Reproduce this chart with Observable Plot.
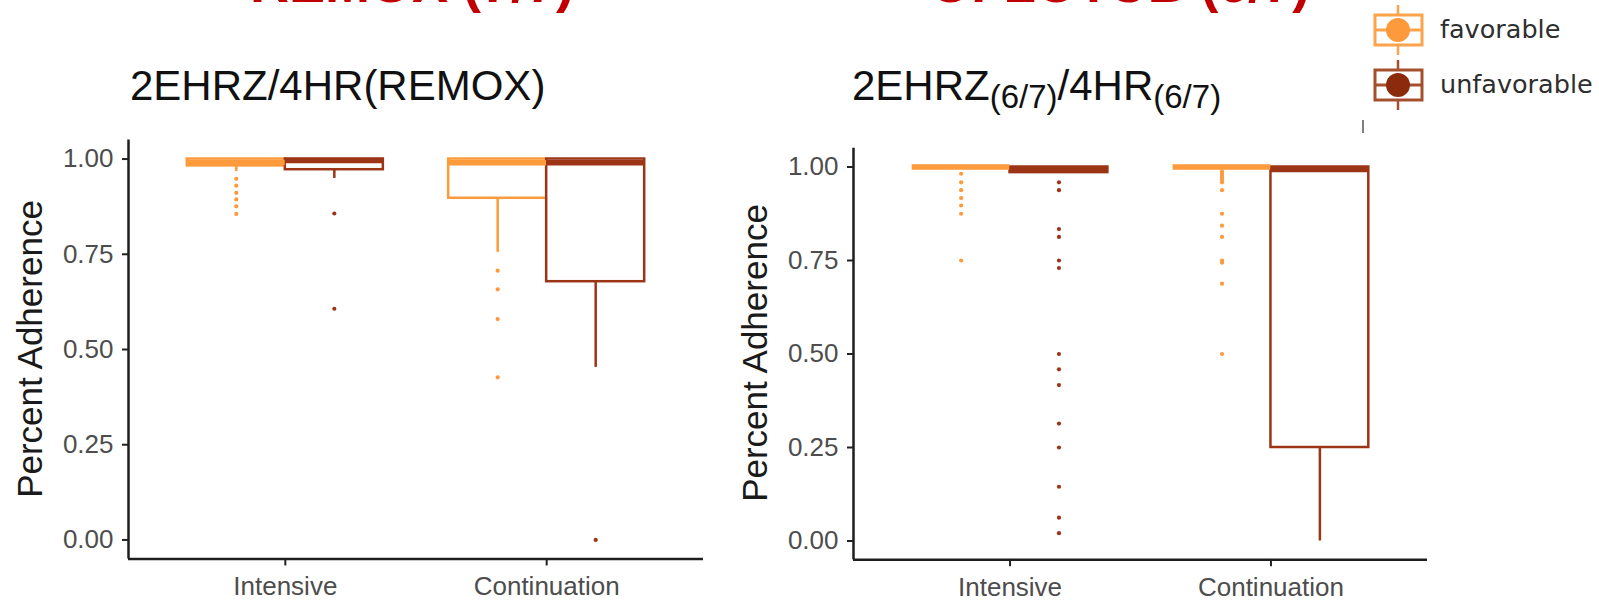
<!DOCTYPE html>
<html>
<head>
<meta charset="utf-8">
<script src="https://cdn.jsdelivr.net/npm/d3@7"></script>
<script src="https://cdn.jsdelivr.net/npm/@observablehq/plot@0.6"></script>
<style>
  body { margin: 0; background: #fff; }
  #page { position: relative; width: 1599px; height: 601px; overflow: hidden; background: #fff; }
  #page > .panel { position: absolute; top: 0; }
  #overlay { position: absolute; left: 0; top: 0; pointer-events: none; }
</style>
</head>
<body>
<div id="page"></div>
<script>
// Treatment phases on the x axis and outcome groups (dodged boxes)
const phases = ["Intensive", "Continuation"];
const outcomes = ["favorable", "unfavorable"];
const outcomeColors = ["#fd9a3b", "#9c3416"];
const yTicks = [0, 0.25, 0.5, 0.75, 1];

// Box order in every array: Intensive-favorable, Intensive-unfavorable,
// Continuation-favorable, Continuation-unfavorable

// REMOX: 2EHRZ/4HR
const remoxQ1 = [0.982, 0.972, 0.897, 0.678];
const remoxMedian = [0.991, 0.996, 0.99, 0.99];
const remoxQ3 = [1, 1, 1, 1];
const remoxWhiskerLow = [0.967, 0.949, 0.755, 0.453];
const remoxOutliers = [
  [0.948, 0.930, 0.911, 0.894, 0.876, 0.856],
  [0.857, 0.607],
  [0.707, 0.658, 0.580, 0.427],
  [0.0]
];

// OFLOTUB: 2EHRZ(6/7)/4HR(6/7)
const oflotubQ1 = [1, 0.985, 1, 0.25];
const oflotubMedian = [1, 0.995, 1, 0.993];
const oflotubQ3 = [1, 1, 1, 1];
const oflotubWhiskerLow = [1, 0.985, 1, 0.0];
const oflotubOutliers = [
  [0.982, 0.959, 0.938, 0.917, 0.897, 0.875, 0.75],
  [0.959, 0.938, 0.834, 0.813, 0.75, 0.73, 0.5, 0.459, 0.417, 0.314, 0.25, 0.145, 0.0625, 0.021],
  [0.988, 0.982, 0.976, 0.971, 0.965, 0.959, 0.938, 0.875, 0.843, 0.813, 0.75, 0.744, 0.688, 0.5],
  []
];

const font = "'Liberation Sans', Arial, Helvetica, sans-serif";
const dodge = 0.375; // half of the 0.75 group width

function boxplotPanel({q1, median, q3, low, outliers, width, marginLeft, marginRight, marginTop, marginBottom}) {
  const boxes = q1.map((_, i) => {
    const p = Math.floor(i / 2), o = i % 2;
    const x1 = p + 1 - dodge + o * dodge;
    return {
      phase: phases[p], outcome: outcomes[o],
      x1, x2: x1 + dodge, xc: x1 + dodge / 2,
      q1: q1[i], median: median[i], q3: q3[i], low: low[i]
    };
  });
  const points = boxes.flatMap((b, i) => outliers[i].map(v => ({...b, value: v})));
  return Plot.plot({
    width, height: 601,
    marginLeft, marginRight, marginTop, marginBottom,
    x: {domain: [0.4, 2.6], axis: null},
    y: {domain: [-0.05, 1.05], axis: null},
    color: {domain: outcomes, range: outcomeColors},
    style: {fontFamily: font, fontSize: "26px", color: "#4d4d4d", background: "transparent", overflow: "visible"},
    marks: [
      Plot.ruleX(boxes.filter(d => d.low < d.q1), {x: "xc", y1: "low", y2: "q1", stroke: "outcome", strokeWidth: 2.5}),
      Plot.rect(boxes, {x1: "x1", x2: "x2", y1: "q1", y2: "q3", fill: "white", stroke: "outcome", strokeWidth: 2.5}),
      Plot.ruleY(boxes, {y: "median", x1: "x1", x2: "x2", stroke: "outcome", strokeWidth: 5.5}),
      Plot.dot(points, {x: "xc", y: "value", r: 2.1, fill: "outcome", stroke: null}),
      Plot.ruleY([-0.05], {stroke: "#1e1e1e", strokeWidth: 2.5}),
      Plot.ruleX([0.4], {stroke: "#1e1e1e", strokeWidth: 2.5}),
      Plot.axisY({ticks: yTicks, tickFormat: d3.format(".2f"), tickSize: 6, tickPadding: 9,
                  stroke: "#222", strokeWidth: 2, fill: "#4d4d4d", fontSize: 26, label: null}),
      Plot.axisX({ticks: [1, 2], tickFormat: d => phases[d - 1], tickSize: 7, tickPadding: 11,
                  stroke: "#222", strokeWidth: 2, fill: "#4d4d4d", fontSize: 26, label: null})
    ]
  });
}

const page = document.getElementById("page");

const left = boxplotPanel({
  q1: remoxQ1, median: remoxMedian, q3: remoxQ3, low: remoxWhiskerLow, outliers: remoxOutliers,
  width: 720, marginLeft: 128, marginRight: 17, marginTop: 139.5, marginBottom: 42.5
});
left.classList.add("panel");
left.style.left = "0px";
page.appendChild(left);

const right = boxplotPanel({
  q1: oflotubQ1, median: oflotubMedian, q3: oflotubQ3, low: oflotubWhiskerLow, outliers: oflotubOutliers,
  width: 719, marginLeft: 128, marginRight: 17, marginTop: 147.8, marginBottom: 41.8
});
right.classList.add("panel");
right.style.left = "725px";
page.appendChild(right);

// Titles, axis titles and legend
const svg = d3.select(page).append("svg")
  .attr("id", "overlay").attr("width", 1599).attr("height", 601)
  .style("font-family", font);

svg.append("text").attr("x", 250).attr("y", 2)
  .attr("font-size", 54).attr("font-weight", "bold").attr("fill", "#c00000")
  .text("REMOX (7/7)");
svg.append("text").attr("x", 930).attr("y", 2)
  .attr("font-size", 53).attr("font-weight", "bold").attr("fill", "#c00000")
  .text("OFLOTUB (6/7)");

svg.append("text").attr("x", 130).attr("y", 100)
  .attr("font-size", 42).attr("fill", "#111")
  .text("2EHRZ/4HR(REMOX)");

const t2 = svg.append("text").attr("x", 852).attr("y", 100)
  .attr("font-size", 42).attr("fill", "#111");
t2.append("tspan").text("2EHRZ");
t2.append("tspan").attr("dy", 8).attr("font-size", 33).text("(6/7)");
t2.append("tspan").attr("dy", -8).text("/4HR");
t2.append("tspan").attr("dy", 8).attr("font-size", 33).text("(6/7)");

[[42, 349], [767, 353]].forEach(([x, y]) => {
  svg.append("text")
    .attr("transform", `translate(${x},${y}) rotate(-90)`)
    .attr("text-anchor", "middle")
    .attr("font-size", 35).attr("fill", "#1a1a1a")
    .text("Percent Adherence");
});

// Legend keys: box outline, median bar, whisker and point
const legendDot = ["#fd9a3b", "#8c2a0c"];
const legendBox = ["#fca34c", "#a5502c"];
outcomes.forEach((name, i) => {
  const cy = 30 + i * 55;
  const g = svg.append("g");
  g.append("line").attr("x1", 1398).attr("x2", 1398).attr("y1", cy - 25).attr("y2", cy + 25)
    .attr("stroke", legendBox[i]).attr("stroke-width", 2.5);
  g.append("rect").attr("x", 1375).attr("y", cy - 15).attr("width", 47).attr("height", 30)
    .attr("fill", "white").attr("stroke", legendBox[i]).attr("stroke-width", 3);
  g.append("line").attr("x1", 1375).attr("x2", 1422).attr("y1", cy).attr("y2", cy)
    .attr("stroke", legendBox[i]).attr("stroke-width", 3);
  g.append("circle").attr("cx", 1398).attr("cy", cy).attr("r", 12).attr("fill", legendDot[i]);
  g.append("text").attr("x", 1440).attr("y", cy + 8)
    .attr("font-family", "'DejaVu Sans', sans-serif").attr("font-size", 25.5).attr("fill", "#2e2e2e")
    .text(name);
});
svg.append("line").attr("x1", 1363).attr("x2", 1363).attr("y1", 120).attr("y2", 133)
  .attr("stroke", "#555").attr("stroke-width", 1.5);
</script>
</body>
</html>
